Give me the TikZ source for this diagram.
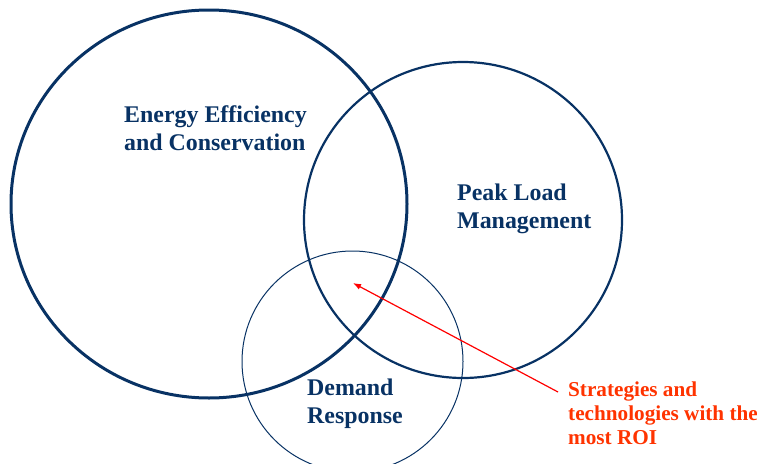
\documentclass[tikz,border=0pt]{standalone}
\usepackage{fontspec}
\setmainfont{Liberation Serif}
\usetikzlibrary{arrows.meta,shapes.geometric}
\definecolor{navy}{RGB}{8,50,100}
\definecolor{roired}{RGB}{255,51,0}
\tikzset{
  venn/.style={draw=navy, ellipse, inner sep=0pt},
  lbl/.style={text=navy, font=\bfseries\fontsize{23.9}{28}\selectfont, align=left, anchor=base west, inner sep=0pt},
  note/.style={text=roired, font=\bfseries\fontsize{21.2}{24}\selectfont, align=left, anchor=base west, inner sep=0pt},
  pointer/.style={draw=red, line width=1.2pt, -{Latex[length=8pt,width=6pt]}}
}
\begin{document}
\begin{tikzpicture}[x=1pt,y=-1pt]
\useasboundingbox (0,0) rectangle (757,463);
\node[venn, line width=3pt, minimum width=396pt, minimum height=388pt] (ee) at (209,204) {};
\node[venn, line width=2.2pt, minimum width=318pt, minimum height=316pt] (pl) at (463,220) {};
\node[venn, line width=1pt, minimum width=221pt, minimum height=221pt] (dr) at (352.5,361.5) {};
\node[lbl] (eet) at (124,150) {Energy Efficiency\\and Conservation};
\node[lbl] (plt) at (457,228) {Peak Load\\Management};
\node[lbl] (drt) at (307,423) {Demand\\Response};
\node[note] (roi) at (568,444) {Strategies and\\technologies with the\\most ROI};
\coordinate (tip) at (353,283);
\coordinate (tail) at (558,392);
\draw[pointer] (tail) -- (tip);
\end{tikzpicture}
\end{document}
